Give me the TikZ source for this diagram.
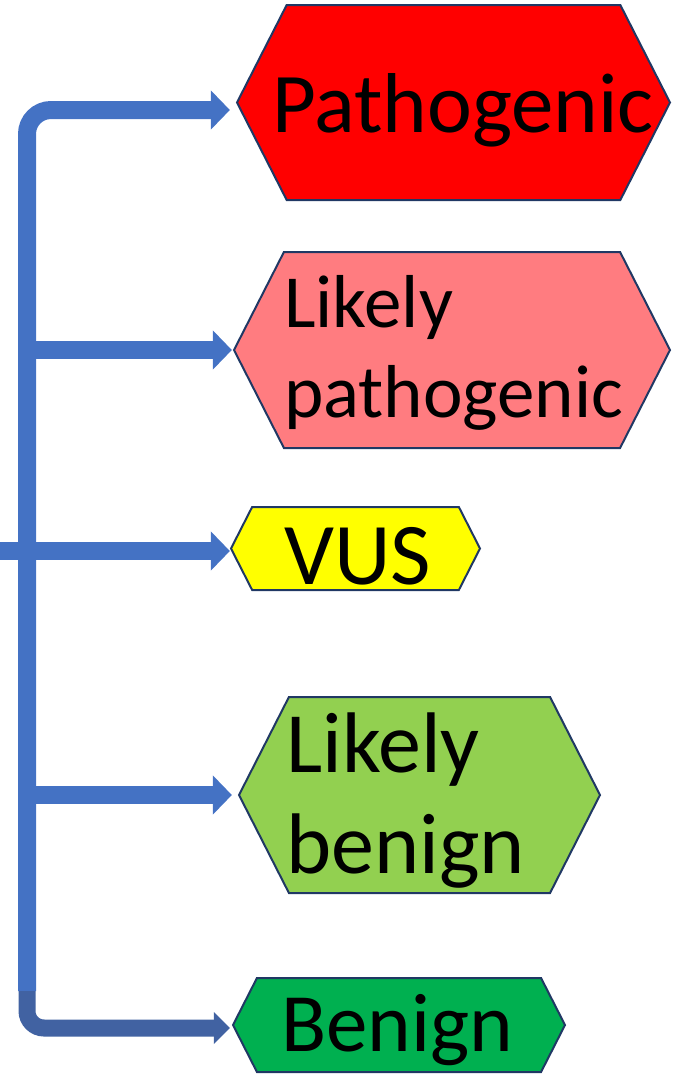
\documentclass[tikz,border=0pt]{standalone}
\usepackage{fontspec}
\setmainfont{Carlito}
\usetikzlibrary{arrows.meta, shapes.symbols}

\definecolor{flowblue}{HTML}{4472C4}
\definecolor{flowdark}{HTML}{4162A2}
\definecolor{hexline}{HTML}{203864}
\definecolor{pathored}{HTML}{FF0000}
\definecolor{lpathored}{HTML}{FF7C80}
\definecolor{vusyellow}{HTML}{FFFF00}
\definecolor{lbenigngreen}{HTML}{92D050}
\definecolor{benigngreen}{HTML}{00B050}

\begin{document}
\begin{tikzpicture}[x=1pt, y=-1pt,
    hexa/.style={signal, signal to=west and east, signal pointer angle=126,
        draw=hexline, line width=2pt, inner sep=0pt},
    flow/.style={draw=flowblue, line width=18pt, -{Triangle[length=19pt, width=38pt]}},
    lbl/.style={anchor=base west, align=left, inner sep=0pt}]
    \useasboundingbox (0,0) rectangle (679,1074);

    % hexagons
    \node[hexa, fill=pathored, minimum width=433pt, minimum height=195pt] (patho) at (453.5,102.5) {};
    \node[hexa, fill=lpathored, minimum width=436pt, minimum height=196pt] (lpatho) at (452,350) {};
    \node[hexa, fill=vusyellow, minimum width=249pt, minimum height=83pt] (vus) at (355.5,548.5) {};
    \node[hexa, fill=lbenigngreen, minimum width=361pt, minimum height=196pt] (lbenign) at (419.5,795) {};
    \node[hexa, fill=benigngreen, minimum width=332pt, minimum height=94pt] (benign) at (399,1025) {};

    % labels (base of a two-line label is its last line)
    \node[lbl, font=\fontsize{85}{100}\selectfont] (patho-txt) at (272,132) {Pathogenic};
    \node[lbl, font=\fontsize{75}{90}\selectfont] (lpatho-txt) at (284,417) {Likely\\pathogenic};
    \node[lbl, font=\fontsize{88}{106}\selectfont] (vus-txt) at (284,584) {VUS};
    \node[lbl, font=\fontsize{86}{101}\selectfont] (lbenign-txt) at (286,873) {Likely\\benign};
    \node[lbl, font=\fontsize{83}{100}\selectfont] (benign-txt) at (281,1051) {Benign};

    % trunk and branches
    \coordinate (root) at (27,991);
    \draw[flow, rounded corners=24pt] (root) |- ([shift={(-6pt,-7.5pt)}]patho.west);
    \draw[flow] (root |- lpatho.west) -- ([xshift=-1pt]lpatho.west);
    \draw[flow] (0,551) -- ([yshift=-2.5pt]vus.west);
    \draw[flow] (root |- lbenign.west) -- ([xshift=-6pt]lbenign.west);
    \draw[flow, draw=flowdark, line width=17pt, rounded corners=17pt,
        -{Triangle[length=16pt, width=31pt]}] (root) |- ([shift={(-2pt,-3pt)}]benign.west);
\end{tikzpicture}
\end{document}
